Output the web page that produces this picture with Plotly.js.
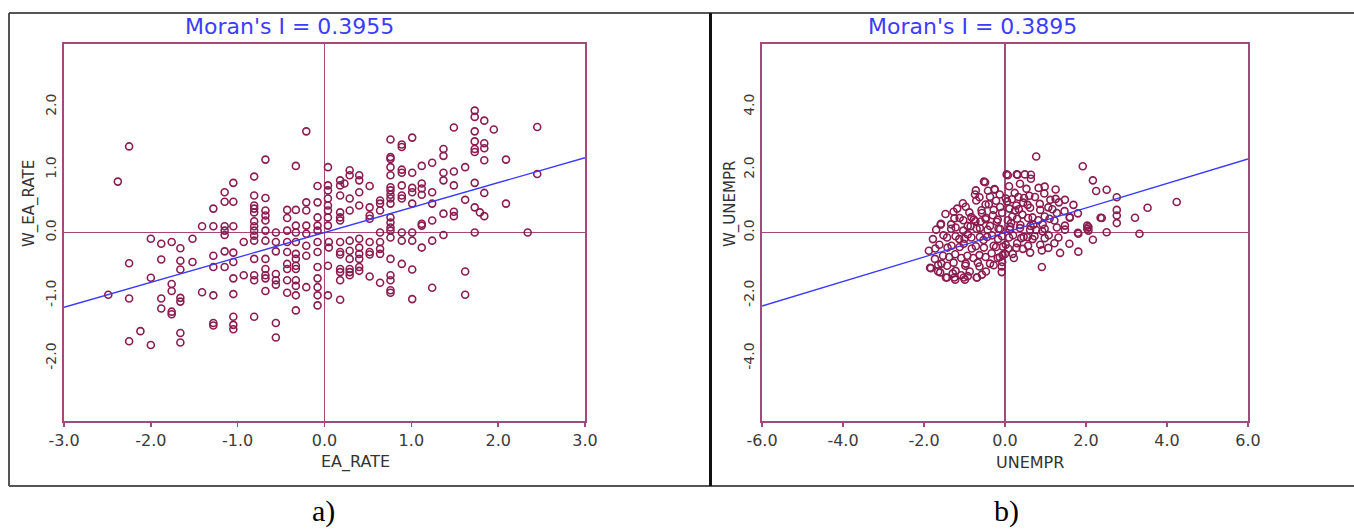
<!DOCTYPE html>
<html>
<head>
<meta charset="utf-8">
<script src="https://cdn.plot.ly/plotly-3.0.1.min.js"></script>
<style>html,body{margin:0;padding:0;background:#fff;}#chart{width:1354px;height:530px;}</style>
</head>
<body>
<div id="chart"></div>
<script>
// ---------- Panel a) EA_RATE ----------
const titleA = "Moran's I = 0.3955";
const xTitleA = "EA_RATE";
const yTitleA = "W_EA_RATE";
const xTickValsA = [-3, -2, -1, 0, 1, 2, 3];
const xTickTextA = ["-3.0", "-2.0", "-1.0", "0.0", "1.0", "2.0", "3.0"];
const yTickValsA = [-2, -1, 0, 1, 2];
const yTickTextA = ["-2.0", "-1.0", "0.0", "1.0", "2.0"];
const fitXA = [-3, 3];
const fitYA = [-1.19, 1.19];

const eaRate = [
  -2.49, -2.38,
  -2.25, -2.25, -2.25, -2.25,
  -2.12,
  -2.00, -2.00, -2.00,
  -1.88, -1.88, -1.88, -1.88,
  -1.76, -1.76, -1.76, -1.76, -1.76,
  -1.66, -1.66, -1.66, -1.66, -1.66, -1.66, -1.66,
  -1.52, -1.52,
  -1.41, -1.41,
  -1.28, -1.28, -1.28, -1.28, -1.28, -1.28, -1.28,
  -1.15, -1.15, -1.15, -1.15, -1.15, -1.15, -1.15,
  -1.05, -1.05, -1.05, -1.05, -1.05, -1.05, -1.05, -1.05, -1.05, -1.05,
  -0.93, -0.93,
  -0.81, -0.81, -0.81, -0.81, -0.81, -0.81, -0.81, -0.81, -0.81, -0.81, -0.81, -0.81, -0.81, -0.81,
  -0.68, -0.68, -0.68, -0.68, -0.68, -0.68, -0.68, -0.68, -0.68, -0.68, -0.68, -0.68,
  -0.56, -0.56, -0.56, -0.56, -0.56, -0.56, -0.56, -0.56,
  -0.43, -0.43, -0.43, -0.43, -0.43, -0.43, -0.43, -0.43, -0.43,
  -0.33, -0.33, -0.33, -0.33, -0.33, -0.33, -0.33, -0.33, -0.33, -0.33, -0.33, -0.33, -0.33,
  -0.21, -0.21, -0.21, -0.21, -0.21, -0.21, -0.21, -0.21,
  -0.08, -0.08, -0.08, -0.08, -0.08, -0.08, -0.08, -0.08, -0.08, -0.08, -0.08, -0.08,
  0.04, 0.04, 0.04, 0.04, 0.04, 0.04, 0.04, 0.04, 0.04, 0.04, 0.05, 0.05,
  0.18, 0.18, 0.18, 0.18, 0.18, 0.18, 0.18, 0.18, 0.18, 0.18, 0.18, 0.18, 0.18,
  0.23,
  0.29, 0.29, 0.29, 0.29, 0.29, 0.29, 0.29, 0.29, 0.29, 0.29,
  0.40, 0.40, 0.40, 0.40, 0.40, 0.40, 0.40, 0.40, 0.40, 0.40,
  0.52, 0.52, 0.52, 0.52, 0.52, 0.52, 0.52, 0.52,
  0.64, 0.64, 0.64, 0.64, 0.64, 0.64, 0.64, 0.64,
  0.76, 0.76, 0.76, 0.76, 0.76, 0.76, 0.76, 0.76, 0.76, 0.76, 0.76, 0.76, 0.76, 0.76, 0.76, 0.76, 0.76, 0.76, 0.76, 0.76,
  0.89, 0.89, 0.89, 0.89, 0.89, 0.89, 0.89, 0.89, 0.89, 0.89,
  1.01, 1.01, 1.01, 1.01, 1.01, 1.01, 1.01, 1.01, 1.01,
  1.12, 1.12, 1.12, 1.12, 1.12, 1.12, 1.12,
  1.24, 1.24, 1.24, 1.24, 1.24, 1.24,
  1.37, 1.37, 1.37, 1.37, 1.37, 1.37,
  1.49, 1.49, 1.49, 1.49, 1.49,
  1.62, 1.62, 1.62, 1.62,
  1.73, 1.73, 1.73, 1.73, 1.73, 1.73, 1.73, 1.73, 1.73,
  1.79,
  1.84, 1.84, 1.84, 1.84, 1.84, 1.84,
  1.95,
  2.09, 2.09,
  2.34,
  2.45, 2.45
];
const wEaRate = [
  -0.99, 0.81,
  1.37, -0.49, -1.05, -1.73,
  -1.57,
  -0.10, -0.72, -1.79,
  -0.18, -0.43, -1.05, -1.21,
  -0.15, -0.82, -0.93, -1.26, -1.30,
  -0.25, -0.45, -0.59, -1.04, -1.10, -1.60, -1.75,
  -0.10, -0.47,
  0.10, -0.95,
  0.38, 0.10, -0.37, -0.55, -1.00, -1.44, -1.48,
  0.64, 0.49, 0.10, 0.03, -0.04, -0.30, -0.55,
  0.79, 0.49, 0.10, -0.32, -0.47, -0.73, -0.98, -1.34, -1.47, -1.54,
  -0.15, -0.68,
  0.89, 0.59, 0.43, 0.38, 0.32, 0.18, 0.10, 0.03, -0.05, -0.13, -0.42, -0.68, -0.76, -1.34,
  1.16, 0.55, 0.35, 0.27, 0.19, 0.03, -0.13, -0.42, -0.58, -0.68, -0.73, -0.93,
  0.00, -0.15, -0.30, -0.66, -0.76, -0.83, -1.44, -1.67,
  0.36, 0.23, 0.03, -0.15, -0.31, -0.50, -0.58, -0.76, -0.96,
  1.06, 0.36, 0.11, 0.00, -0.15, -0.34, -0.42, -0.53, -0.58, -0.76, -0.85, -1.00, -1.24,
  1.61, 0.48, 0.35, 0.11, -0.02, -0.21, -0.37, -0.87,
  0.74, 0.48, 0.24, 0.11, 0.03, -0.15, -0.31, -0.55, -0.73, -0.87, -1.00, -1.16,
  1.04, 0.75, 0.67, 0.54, 0.43, 0.35, 0.24, 0.11, -0.53, -1.00, -0.15, -0.24,
  0.83, 0.75, 0.59, 0.32, 0.24, 0.19, -0.15, -0.31, -0.35, -0.58, -0.63, -0.76, -1.07,
  0.78,
  0.99, 0.91, 0.54, 0.35, -0.13, -0.29, -0.42, -0.58, -0.63, -0.68,
  0.91, 0.83, 0.64, 0.43, -0.10, -0.24, -0.34, -0.42, -0.55, -0.61,
  0.74, 0.40, 0.27, 0.22, -0.15, -0.31, -0.35, -0.70,
  0.51, 0.46, 0.35, 0.00, -0.15, -0.26, -0.34, -0.80,
  1.48, 1.20, 1.17, 1.04, 0.91, 0.72, 0.67, 0.60, 0.54, 0.46, 0.24, 0.16, 0.08, 0.03, -0.08, -0.42, -0.68, -0.76, -0.92, -0.96,
  1.40, 1.36, 1.00, 0.95, 0.75, 0.59, 0.54, 0.00, -0.13, -0.50,
  1.51, 0.95, 0.71, 0.64, 0.46, 0.00, -0.13, -0.59, -1.06,
  1.06, 0.78, 0.70, 0.60, 0.11, 0.14, -0.24,
  1.11, 0.64, 0.46, 0.19, -0.13, -0.88,
  1.33, 1.22, 0.95, 0.83, 0.30, -0.04,
  1.67, 0.97, 0.75, 0.33, 0.26,
  1.04, 0.52, -0.62, -0.99,
  1.94, 1.84, 1.61, 1.45, 1.33, 1.28, 0.79, 0.40, 0.00,
  0.32,
  1.78, 1.42, 1.34, 1.15, 0.63, 0.26,
  1.64,
  1.16, 0.46,
  0.00,
  1.68, 0.93
];

// ---------- Panel b) UNEMPR ----------
const titleB = "Moran's I = 0.3895";
const xTitleB = "UNEMPR";
const yTitleB = "W_UNEMPR";
const xTickValsB = [-6, -4, -2, 0, 2, 4, 6];
const xTickTextB = ["-6.0", "-4.0", "-2.0", "0.0", "2.0", "4.0", "6.0"];
const yTickValsB = [-4, -2, 0, 2, 4];
const yTickTextB = ["-4.0", "-2.0", "0.0", "2.0", "4.0"];
const fitXB = [-6, 6];
const fitYB = [-2.34, 2.34];

const unempr = [
  0.77, 1.92, 2.17, 2.25, 2.51, 2.76, 2.76, 2.76, 2.76, 2.36, 3.21, 3.52, 4.24, 3.32, 2.51, 2.03, 2.03, 1.81, 2.17, 1.81,
  1.36, 1.59, 0.91, 1.07, 0.91, 0.44, 0.07, 0.31, 0.64, 0.64, -0.52, -0.72, -0.63, -0.26, -1.04, -1.58, -1.83, -1.65, -1.65, -1.46,
  -1.25, -1.02, -0.70, -1.29, -0.08, -0.08, 1.25, 0.98, 1.25, 1.48, 1.69, 1.60, 1.48, 1.28, -1.59, -0.49, -0.74, -0.25, 0.04, 0.29,
  0.49, -1.85, -1.60, -1.43, -1.23, -0.99, -0.69, 0.19, 0.00, 1.60, 1.80, 2.06, 2.06, 2.39, 1.80,
  -0.42, -0.13, 0.10, 0.24, 0.37, 0.53, 0.60, 0.83, 0.97, 0.33, 0.02, -0.22,
  -0.97, -0.71, -0.48, -0.37, -0.12, 0.05, 0.17, 0.28, 0.47, 0.56, 0.74, 0.86, 1.07, 1.12, 1.33, 1.47, -1.18, -0.58,
  -1.47, -1.27, -1.12, -0.88, -0.77, -0.57, -0.47, -0.28, -0.18, -0.07, 0.11, 0.18, 0.34, 0.43, 0.62, 0.68, 0.87, 0.98, 1.17, 1.28, 1.22,
  -1.33, -1.22, -1.03, -0.92, -0.73, -0.62, -0.48, -0.37, -0.20, -0.12, 0.07, 0.13, 0.30, 0.38, 0.57, 0.63, 0.82, 0.93, 1.10, 0.98, 0.77, -0.83,
  -1.70, -1.52, -1.33, -1.22, -1.03, -0.92, -0.70, -0.62, -0.43, -0.32, -0.16, -0.07, 0.12, 0.20, 0.37, 0.46, 0.62, 0.73, 0.92, 1.08, 1.32, 1.48,
  -1.78, -1.62, -1.43, -1.32, -1.13, -1.02, -0.83, -0.72, -0.53, -0.44, -0.28, -0.17, 0.02, 0.10, 0.30, 0.40, 0.57, 0.68, 0.87, 0.98, 1.22, 0.28,
  -1.88, -1.72, -1.53, -1.42, -1.23, -1.12, -0.93, -0.82, -0.63, -0.52, -0.33, -0.22, -0.06, 0.08, 0.62, -0.13,
  -1.73, -1.57, -1.38, -1.27, -1.08, -0.97, -0.78, -0.67, -0.48, -0.37, -0.18, -0.07, 0.22,
  -1.43, -1.22, -0.98, -0.87, -0.63, -0.47, -0.28, -0.57, -0.92, -1.08,
  -0.30, 0.15, 0.55, -0.85, -1.00, -0.40, 0.25, 0.70, -0.60, -1.25, 0.45, -0.05
];
const wUnempr = [
  2.42, 2.11, 1.66, 1.32, 1.36, 1.12, 0.72, 0.54, 0.30, 0.47, 0.47, 0.79, 0.97, -0.04, 0.01, 0.22, 0.12, -0.04, -0.23, -0.61,
  -0.65, -0.36, -1.10, -0.49, -0.57, -0.52, 1.82, 1.84, 1.84, 1.71, 1.62, 1.34, 1.12, 1.38, 0.93, 0.28, -1.14, -1.03, -1.24, -1.43,
  -1.43, -1.43, -1.43, -1.30, -1.26, -1.08, 1.37, 1.46, 1.07, 1.04, 0.88, 0.47, 0.22, 0.16, 0.25, 1.60, 1.21, 1.36, 1.85, 1.85,
  1.85, -1.12, -1.27, -1.43, -1.50, -1.50, -1.43, -0.68, -0.68, 0.49, 0.61, 0.17, 0.06, 0.46, -0.01,
  1.33, 1.21, 1.47, 1.26, 1.55, 1.39, 1.17, 1.42, 1.24, 1.13, 1.08, 1.01,
  0.82, 1.02, 0.89, 1.14, 0.81, 0.99, 1.06, 0.86, 1.10, 0.88, 1.13, 0.91, 0.80, 1.04, 0.96, 0.68, 0.76, 0.71,
  0.59, 0.66, 0.46, 0.64, 0.41, 0.62, 0.47, 0.72, 0.41, 0.63, 0.76, 0.51, 0.74, 0.57, 0.79, 0.48, 0.72, 0.51, 0.74, 0.62, 0.38,
  0.26, 0.16, 0.39, 0.21, 0.36, 0.14, 0.42, 0.21, 0.34, 0.11, 0.39, 0.18, 0.44, 0.24, 0.46, 0.21, 0.39, 0.26, 0.44, 0.12, 0.08, 0.49,
  0.09, -0.09, 0.12, -0.12, 0.06, -0.06, 0.12, -0.14, 0.09, -0.09, 0.12, -0.12, 0.09, -0.09, 0.14, -0.14, 0.09, -0.12, 0.04, -0.09, -0.16, 0.09,
  -0.21, -0.39, -0.16, -0.42, -0.21, -0.36, -0.16, -0.44, -0.24, -0.14, -0.42, -0.21, -0.39, -0.16, -0.34, -0.18, -0.42, -0.21, -0.39, -0.18, -0.34, -0.49,
  -0.58, -0.51, -0.74, -0.48, -0.69, -0.46, -0.74, -0.51, -0.72, -0.48, -0.66, -0.46, -0.72, -0.51, -0.64, -0.79,
  -0.84, -0.99, -0.78, -0.96, -0.81, -0.99, -0.81, -0.96, -0.78, -0.99, -0.81, -0.94, -0.81,
  -1.06, -1.22, -1.06, -1.24, -1.08, -1.24, -1.04, -1.34, -1.39, -1.36,
  0.55, 0.30, -0.15, 0.20, -0.20, 0.90, 0.70, 0.25, 0.35, 0.45, 0.95, -0.45
];

// ---------- Styling ----------
const W = 1354, H = 530;
const markColor = '#8a1c50';
const axisColor = '#a3497c';
const fitColor = '#3a3aff';
const px = v => v / W;
const py = v => 1 - v / H;

const marker = {symbol: 'circle-open', size: 7, color: markColor, line: {color: markColor, width: 1.6}};

const traces = [
  {x: eaRate, y: wEaRate, type: 'scatter', mode: 'markers', marker: marker, xaxis: 'x', yaxis: 'y', hoverinfo: 'skip'},
  {x: fitXA, y: fitYA, type: 'scatter', mode: 'lines', line: {color: fitColor, width: 1.3}, xaxis: 'x', yaxis: 'y', hoverinfo: 'skip'},
  {x: unempr, y: wUnempr, type: 'scatter', mode: 'markers', marker: marker, xaxis: 'x2', yaxis: 'y2', hoverinfo: 'skip'},
  {x: fitXB, y: fitYB, type: 'scatter', mode: 'lines', line: {color: fitColor, width: 1.3}, xaxis: 'x2', yaxis: 'y2', hoverinfo: 'skip'}
];

function xAxis(domain, range, vals, text, anchor) {
  return {
    domain: domain, range: range, anchor: anchor, tickvals: vals, ticktext: text,
    showline: true, mirror: true, linecolor: axisColor, linewidth: 2,
    ticks: 'outside', ticklen: 4, tickwidth: 1.5, tickcolor: axisColor,
    zeroline: true, zerolinecolor: axisColor, zerolinewidth: 1.5,
    showgrid: false, fixedrange: true,
    tickfont: {family: 'DejaVu Sans, sans-serif', size: 16, color: '#3a3a3a'}
  };
}
function yAxis(domain, range, vals, text, anchor) {
  return {
    domain: domain, range: range, anchor: anchor, tickvals: vals, ticktext: text,
    showline: true, mirror: true, linecolor: axisColor, linewidth: 2,
    ticks: '', tickangle: -90,
    zeroline: true, zerolinecolor: axisColor, zerolinewidth: 1.5,
    showgrid: false, fixedrange: true,
    tickfont: {family: 'DejaVu Sans, sans-serif', size: 14, color: '#3a3a3a'}
  };
}

const yDom = [py(421), py(44)];

const ann = (text, x, y, size, color, angle, family) => ({
  text: text, xref: 'paper', yref: 'paper', x: px(x), y: py(y),
  xanchor: 'center', yanchor: 'middle', showarrow: false, textangle: angle || 0,
  font: {family: family || 'DejaVu Sans, sans-serif', size: size, color: color}
});

const layout = {
  width: W, height: H,
  margin: {l: 0, r: 0, t: 0, b: 0},
  paper_bgcolor: '#ffffff', plot_bgcolor: '#ffffff',
  showlegend: false,
  xaxis: xAxis([px(64), px(585)], [-3, 3], xTickValsA, xTickTextA, 'y'),
  yaxis: yAxis(yDom, [-3, 3], yTickValsA, yTickTextA, 'x'),
  xaxis2: xAxis([px(762), px(1248)], [-6, 6], xTickValsB, xTickTextB, 'y2'),
  yaxis2: yAxis(yDom, [-6, 6], yTickValsB, yTickTextB, 'x2'),
  annotations: [
    ann(titleA, 289, 27, 22, '#3c3cff'),
    ann(titleB, 972, 27, 22, '#3c3cff'),
    ann(xTitleA, 355, 462, 16, '#333333'),
    ann(xTitleB, 1030, 462, 16, '#333333'),
    ann(yTitleA, 29, 204, 15, '#333333', -90),
    ann(yTitleB, 730, 204, 15, '#333333', -90),
    ann('a)', 323, 511, 30, '#000000', 0, 'Liberation Serif, serif'),
    ann('b)', 1007, 511, 30, '#000000', 0, 'Liberation Serif, serif')
  ],
  shapes: [
    {type: 'line', xref: 'paper', yref: 'paper', x0: px(9), x1: 1.01, y0: py(13), y1: py(13), line: {color: '#555555', width: 2}},
    {type: 'line', xref: 'paper', yref: 'paper', x0: px(9), x1: 1.01, y0: py(486), y1: py(486), line: {color: '#555555', width: 2}},
    {type: 'line', xref: 'paper', yref: 'paper', x0: px(9), x1: px(9), y0: py(13), y1: py(486), line: {color: '#555555', width: 2}},
    {type: 'line', xref: 'paper', yref: 'paper', x0: px(710.5), x1: px(710.5), y0: py(13), y1: py(486), line: {color: '#111111', width: 3}}
  ]
};

Plotly.newPlot('chart', traces, layout, {displayModeBar: false, staticPlot: true});
</script>
</body>
</html>
